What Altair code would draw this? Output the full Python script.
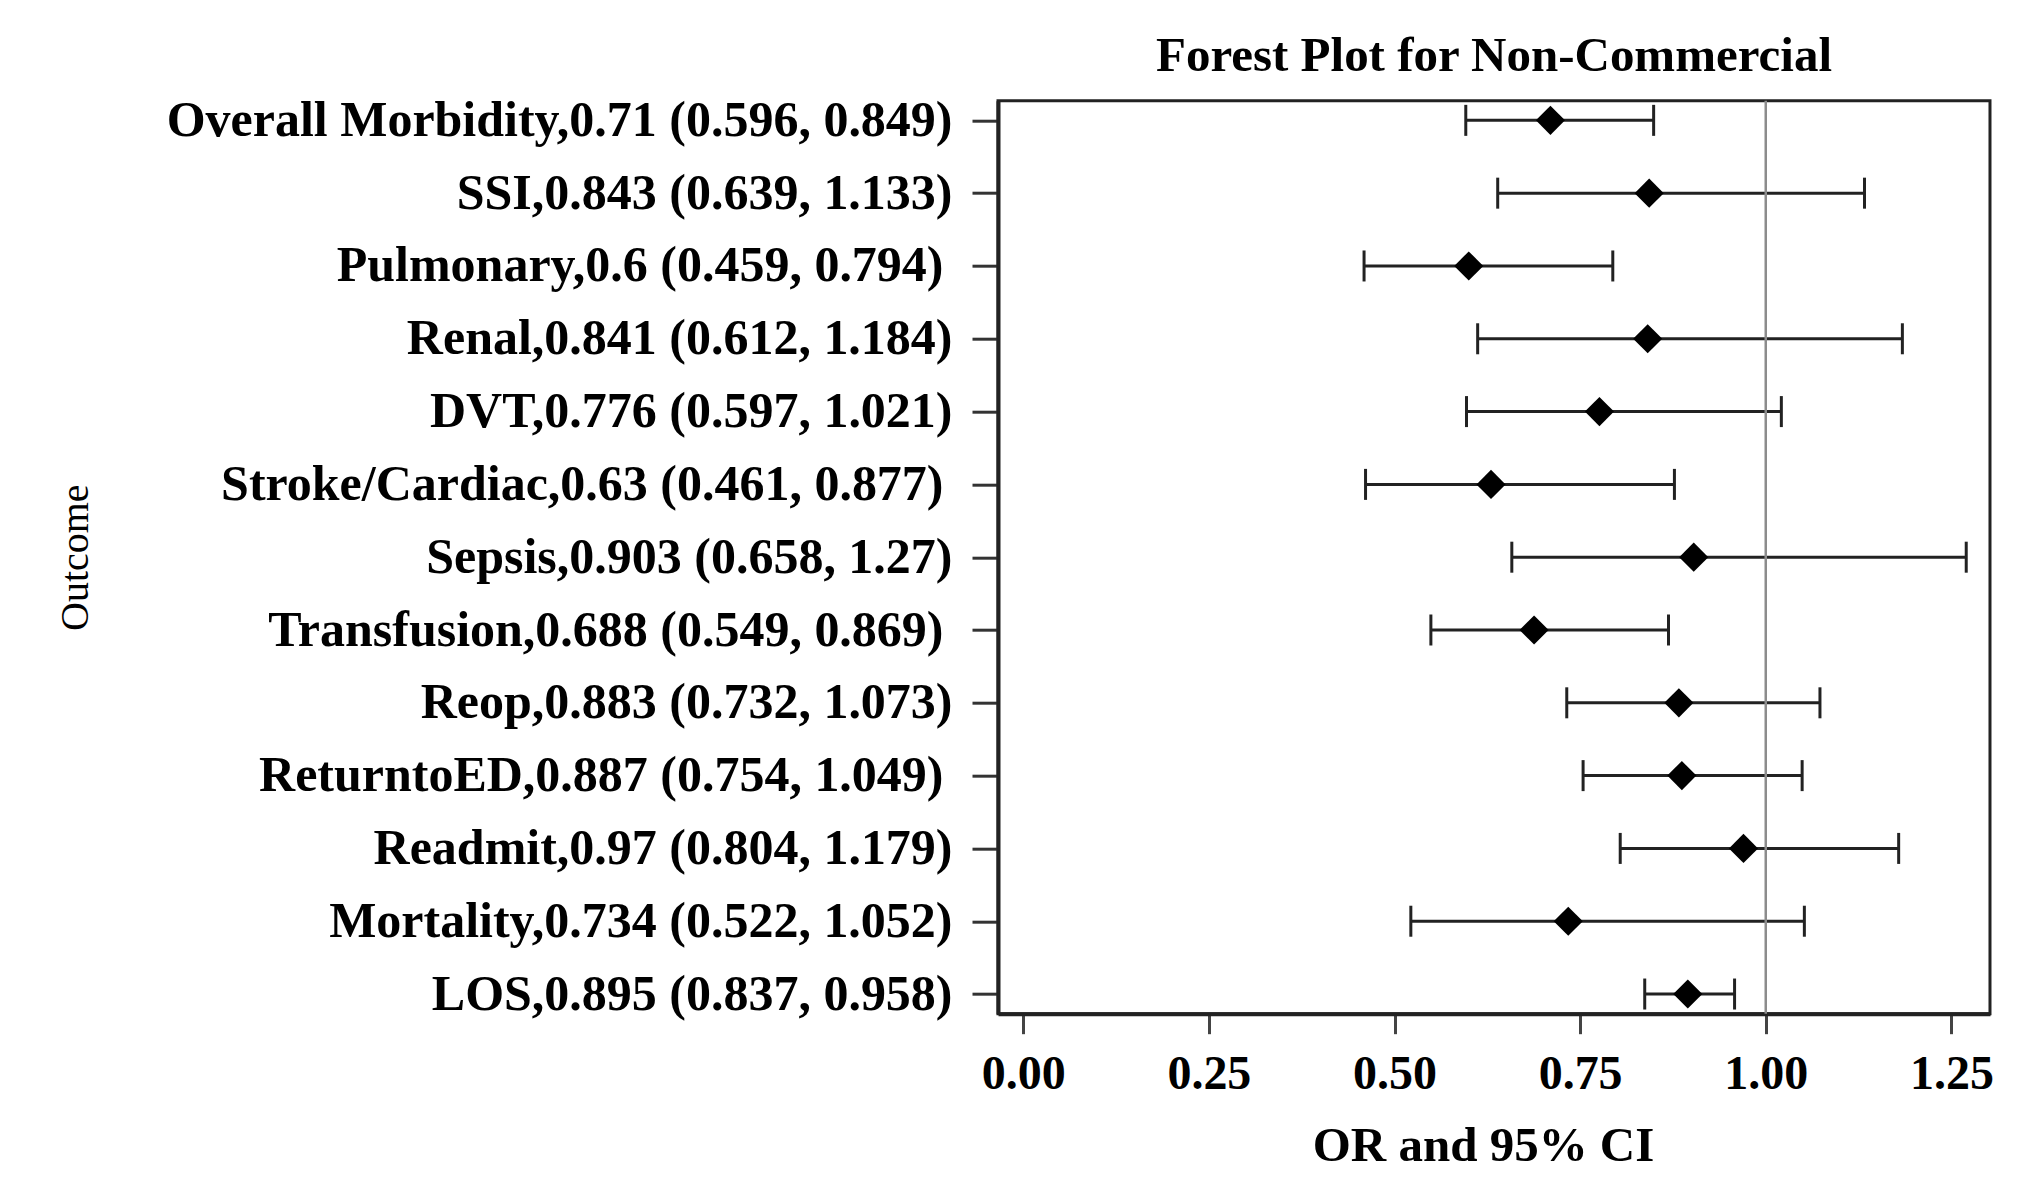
import json
import altair as alt
import pandas as pd

# ---- data ----
outcomes = ["Overall Morbidity", "SSI", "Pulmonary", "Renal", "DVT", "Stroke/Cardiac",
            "Sepsis", "Transfusion", "Reop", "ReturntoED", "Readmit", "Mortality", "LOS"]
odds_ratio = [0.71, 0.843, 0.6, 0.841, 0.776, 0.63, 0.903, 0.688, 0.883, 0.887, 0.97, 0.734, 0.895]
ci_lower = [0.596, 0.639, 0.459, 0.612, 0.597, 0.461, 0.658, 0.549, 0.732, 0.754, 0.804, 0.522, 0.837]
ci_upper = [0.849, 1.133, 0.794, 1.184, 1.021, 0.877, 1.27, 0.869, 1.073, 1.049, 1.179, 1.052, 0.958]
trailing_space = [False, False, True, False, False, True, False, True, False, True, False, False, False]

x_ticks = [0.0, 0.25, 0.5, 0.75, 1.0, 1.25]
x_domain = [-0.034, 1.302]
ref_value = [1.0]

labels = [
    f"{n},{o} ({lo}, {hi})"
    for n, o, lo, hi in zip(outcomes, odds_ratio, ci_lower, ci_upper)
]
spaced_labels = [l for l, t in zip(labels, trailing_space) if t]

df = pd.DataFrame({"label": labels, "OR": odds_ratio, "lower": ci_lower, "upper": ci_upper})
ref_df = pd.DataFrame({"ref": ref_value})

FONT = "Liberation Serif"

x_scale = alt.Scale(domain=x_domain, nice=False, zero=False)
x_axis = alt.Axis(
    title="OR and 95% CI", values=x_ticks, format=".2f", grid=False,
    labelFont=FONT, labelFontSize=48, labelFontWeight="bold", labelColor="black",
    labelPadding=17, labelFlush=False, labelOverlap=False,
    tickSize=20, tickWidth=3, tickColor="#444",
    domainColor="#222", domainWidth=4,
    titleFont=FONT, titleFontSize=49, titleFontWeight="bold", titleColor="black",
    titleX=485, titleY=146.5, titleBaseline="alphabetic",
)
y_scale = alt.Scale(type="point", padding=0.27)
y_axis = alt.Axis(
    title="Outcome", grid=False,
    labelFont=FONT, labelFontSize=50, labelFontWeight="bold", labelColor="black",
    labelLimit=1200,
    labelPadding={
        "condition": {"test": f"indexof({json.dumps(spaced_labels)}, datum.value) >= 0", "value": 29},
        "value": 20,
    },
    tickSize=26, tickWidth=3, tickColor="#333",
    domainColor="#222", domainWidth=4,
    titleFont=FONT, titleFontSize=40, titleFontWeight="normal", titleColor="black",
    titleX=-923, titleY=456.5, titleBaseline="middle", titleAlign="center",
)

def X(field):
    return alt.X(field, scale=x_scale, axis=x_axis)

Y = alt.Y("label:N", sort=labels, scale=y_scale, axis=y_axis)

base = alt.Chart(df)

ci_lines = base.mark_rule(color="#222", strokeWidth=3).encode(x=X("lower:Q"), x2="upper:Q", y=Y)
cap_lo = base.mark_tick(color="#222", thickness=3, size=31, opacity=1).encode(x=X("lower:Q"), y=Y)
cap_hi = base.mark_tick(color="#222", thickness=3, size=31, opacity=1).encode(x=X("upper:Q"), y=Y)
ref = alt.Chart(ref_df).mark_rule(color="#8c8c8c", strokeWidth=2.5).encode(x=X("ref:Q"))
points = base.mark_point(shape="diamond", filled=True, size=850, color="black", opacity=1).encode(
    x=X("OR:Q"), y=Y
)

chart = (
    alt.layer(ci_lines, cap_lo, cap_hi, ref, points)
    .properties(
        width=992,
        height=913,
        autosize=alt.AutoSizeParams(type="none"),
        padding={"left": 990, "top": 92.7, "right": 25, "bottom": 170},
        title=alt.TitleParams(
            "Forest Plot for Non-Commercial", font=FONT, fontSize=49, fontWeight="bold",
            color="black", anchor="middle", baseline="alphabetic", offset=-25,
        ),
        background="white",
    )
    .configure_view(stroke="#222", strokeWidth=3)
)

chart.save("out.html", embed_options={"renderer": "svg", "actions": False})
